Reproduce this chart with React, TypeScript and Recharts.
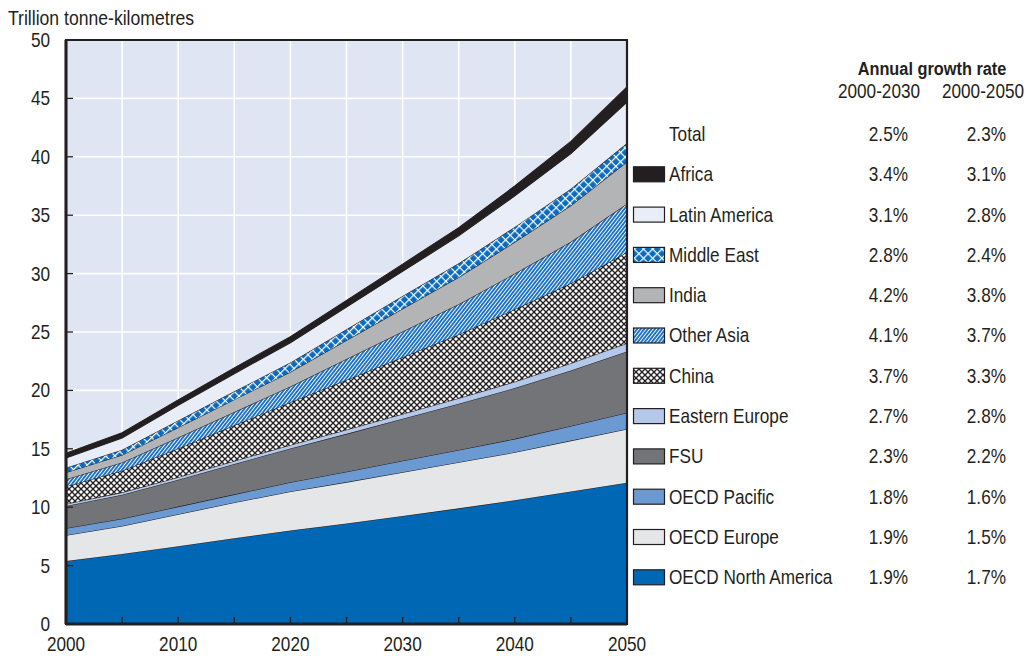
import React from 'react';
import { AreaChart, Area, XAxis, YAxis, CartesianGrid, ReferenceArea } from 'recharts';

const FONT = '"Liberation Sans", Arial, sans-serif';
const INK = '#231f20';
const NARROW = 0.86;

const years = [2000, 2005, 2010, 2015, 2020, 2025, 2030, 2035, 2040, 2045, 2050];
const oecdNorthAmerica = [5.4, 6.0, 6.65, 7.35, 8.0, 8.6, 9.25, 9.9, 10.6, 11.35, 12.1];
const oecdEurope = [2.2, 2.4, 2.75, 3.05, 3.35, 3.55, 3.75, 3.95, 4.1, 4.35, 4.6];
const oecdPacific = [0.6, 0.62, 0.65, 0.7, 0.78, 0.88, 0.97, 1.05, 1.15, 1.25, 1.38];
const fsu = [1.9, 2.05, 2.3, 2.6, 2.9, 3.25, 3.6, 3.95, 4.35, 4.75, 5.25];
const easternEurope = [0.18, 0.2, 0.22, 0.26, 0.3, 0.36, 0.42, 0.48, 0.55, 0.62, 0.7];
const china = [1.5, 1.85, 2.45, 3.05, 3.65, 4.25, 4.85, 5.45, 6.2, 6.85, 7.8];
const otherAsia = [0.62, 0.7, 0.95, 1.15, 1.35, 1.8, 2.2, 2.6, 3.05, 3.55, 4.15];
const india = [0.57, 0.65, 0.85, 1.05, 1.25, 1.6, 1.95, 2.3, 2.7, 3.1, 3.6];
const middleEast = [0.4, 0.45, 0.6, 0.72, 0.8, 0.95, 1.1, 1.2, 1.3, 1.45, 1.6];
const latinAmerica = [0.85, 1.0, 1.3, 1.5, 1.7, 1.9, 2.1, 2.35, 2.65, 3.0, 3.5];
const africa = [0.4, 0.45, 0.47, 0.5, 0.52, 0.56, 0.62, 0.7, 0.85, 1.05, 1.3];

const yTicks = [0, 5, 10, 15, 20, 25, 30, 35, 40, 45, 50];
const xTicks = [2000, 2005, 2010, 2015, 2020, 2025, 2030, 2035, 2040, 2045, 2050];

const legendNames = ['Total', 'Africa', 'Latin America', 'Middle East', 'India', 'Other Asia', 'China', 'Eastern Europe', 'FSU', 'OECD Pacific', 'OECD Europe', 'OECD North America'];
const growth2030 = ['2.5%', '3.4%', '3.1%', '2.8%', '4.2%', '4.1%', '3.7%', '2.7%', '2.3%', '1.8%', '1.9%', '1.9%'];
const growth2050 = ['2.3%', '3.1%', '2.8%', '2.4%', '3.8%', '3.7%', '3.3%', '2.8%', '2.2%', '1.6%', '1.5%', '1.7%'];

const seriesDefs = [
  { key: 'na', name: 'OECD North America', values: oecdNorthAmerica, fill: '#0067b4' },
  { key: 'eu', name: 'OECD Europe', values: oecdEurope, fill: '#e5e6e8' },
  { key: 'pac', name: 'OECD Pacific', values: oecdPacific, fill: '#6b9ad3' },
  { key: 'fsu', name: 'FSU', values: fsu, fill: '#737477' },
  { key: 'ee', name: 'Eastern Europe', values: easternEurope, fill: '#b4c8e9' },
  { key: 'cn', name: 'China', values: china, fill: 'url(#pChina)' },
  { key: 'oa', name: 'Other Asia', values: otherAsia, fill: 'url(#pOA)' },
  { key: 'in', name: 'India', values: india, fill: '#b3b4b6' },
  { key: 'me', name: 'Middle East', values: middleEast, fill: 'url(#pME)' },
  { key: 'la', name: 'Latin America', values: latinAmerica, fill: '#e9edf8' },
  { key: 'af', name: 'Africa', values: africa, fill: '#231f20' },
];

const data = years.map((year, i) => {
  const row: Record<string, number> = { year };
  seriesDefs.forEach((s) => {
    row[s.key] = s.values[i];
  });
  return row;
});

const legendFill: Record<string, string> = {};
seriesDefs.forEach((s) => {
  legendFill[s.name] = s.fill.replace(')', 'L)');
});

const Patterns = ({ suffix }: { suffix: string }) => (
  <defs>
    <pattern id={'pChina' + suffix} width="6" height="6" patternUnits="userSpaceOnUse">
      <rect width="6" height="6" fill="#ffffff" />
      <path d="M0,0 L6,6 M6,0 L0,6" stroke={INK} strokeWidth="1.35" />
    </pattern>
    <pattern id={'pOA' + suffix} width="2.8" height="2.8" patternUnits="userSpaceOnUse" patternTransform="rotate(38)">
      <rect width="2.8" height="2.8" fill="#1c72c5" />
      <rect width="0.9" height="2.8" fill="#ffffff" />
    </pattern>
    <pattern id={'pME' + suffix} width="6.5" height="6.5" patternUnits="userSpaceOnUse" patternTransform="rotate(45)">
      <rect width="6.5" height="6.5" fill="#0a6cc1" />
      <path d="M0,0.6 H6.5 M0.6,0 V6.5" stroke="#ffffff" strokeWidth="1.2" />
    </pattern>
  </defs>
);

type TProps = {
  x: number;
  y: number;
  anchor?: 'start' | 'middle' | 'end';
  size?: number;
  weight?: string;
  scale?: number;
  children: React.ReactNode;
};

const NText = ({ x, y, anchor = 'start', size = 20, weight = 'normal', scale = NARROW, children }: TProps) => (
  <text
    transform={`translate(${x},${y}) scale(${scale},1)`}
    x={0}
    y={0}
    textAnchor={anchor}
    dominantBaseline="central"
    fontFamily={FONT}
    fontSize={size}
    fontWeight={weight}
    fill={INK}
  >
    {children}
  </text>
);

const TICK_MARGIN_X = 20;
const TICK_MARGIN_Y = 16;

const XTick = (props: any) => {
  const { x, y, payload } = props;
  const v = payload.value as number;
  const axisY = y - TICK_MARGIN_X;
  return (
    <g>
      {v !== 2000 && v !== 2050 && (
        <line x1={x} x2={x} y1={axisY} y2={axisY - 7} stroke={INK} strokeWidth={1.3} />
      )}
      {v % 10 === 0 && (
        <NText x={x} y={y} anchor="middle">
          {v}
        </NText>
      )}
    </g>
  );
};

const YTick = (props: any) => {
  const { x, y, payload } = props;
  const v = payload.value as number;
  const axisX = x + TICK_MARGIN_Y;
  return (
    <g>
      {v !== 0 && v !== 50 && (
        <line x1={axisX} x2={axisX + 7} y1={y} y2={y} stroke={INK} strokeWidth={1.3} />
      )}
      <NText x={x} y={y} anchor="end">
        {v}
      </NText>
    </g>
  );
};

const Legend = () => {
  const rowY0 = 134;
  const step = 40.3;
  return (
    <svg width={1030} height={656} style={{ position: 'absolute', left: 0, top: 0, pointerEvents: 'none' }}>
      <Patterns suffix="L" />
      <NText x={8} y={18} scale={0.88}>
        Trillion tonne-kilometres
      </NText>
      <NText x={932} y={69} anchor="middle" size={19} weight="bold">
        Annual growth rate
      </NText>
      <NText x={879} y={91} anchor="middle">
        2000-2030
      </NText>
      <NText x={983} y={91} anchor="middle">
        2000-2050
      </NText>
      {legendNames.map((name, i) => {
        const cy = rowY0 + i * step;
        return (
          <g key={name}>
            {i > 0 && (
              <rect x={633.5} y={cy - 7.5} width={31} height={15} fill={legendFill[name]} stroke={INK} strokeWidth={1.2} />
            )}
            <NText x={669} y={cy}>
              {name}
            </NText>
            <NText x={908} y={cy} anchor="end">
              {growth2030[i]}
            </NText>
            <NText x={1006} y={cy} anchor="end">
              {growth2050[i]}
            </NText>
          </g>
        );
      })}
    </svg>
  );
};

export default function App() {
  return (
    <div style={{ position: 'absolute', left: 0, top: 0, width: 1030, height: 656, background: '#ffffff' }}>
      <AreaChart
        width={1030}
        height={656}
        data={data}
        margin={{ top: 40, right: 403, bottom: 0, left: 10 }}
      >
        <Patterns suffix="" />
        <CartesianGrid fill="#dfe5f3" stroke="#ffffff" strokeWidth={1.6} />
        <XAxis
          dataKey="year"
          type="number"
          domain={[2000, 2050]}
          ticks={xTicks}
          height={32}
          tickSize={0}
          tickMargin={TICK_MARGIN_X}
          tick={<XTick />}
          axisLine={{ stroke: INK, strokeWidth: 3 }}
          interval={0}
        />
        <YAxis
          type="number"
          domain={[0, 50]}
          ticks={yTicks}
          width={56}
          tickSize={0}
          tickMargin={TICK_MARGIN_Y}
          tick={<YTick />}
          axisLine={{ stroke: INK, strokeWidth: 3 }}
          interval={0}
        />
        {seriesDefs.map((s) => (
          <Area
            key={s.key}
            dataKey={s.key}
            name={s.name}
            stackId="1"
            type="linear"
            fill={s.fill}
            fillOpacity={1}
            stroke={INK}
            strokeWidth={1.1}
            isAnimationActive={false}
            dot={false}
            activeDot={false}
          />
        ))}
        <ReferenceArea x1={2000} x2={2050} y1={0} y2={50} fill="none" stroke={INK} strokeWidth={2.2} ifOverflow="visible" />
      </AreaChart>
      <Legend />
    </div>
  );
}
